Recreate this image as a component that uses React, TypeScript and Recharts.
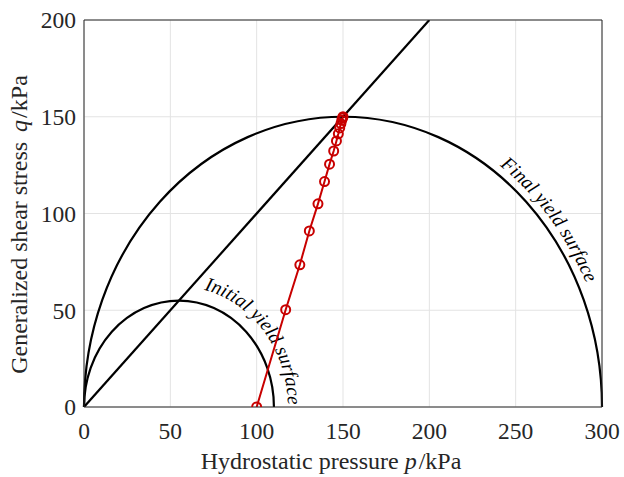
import * as Recharts from "recharts";
import { ComposedChart, Line, XAxis, YAxis, CartesianGrid, Customized } from "recharts";

const W = 624;
const H = 477;

const pTicks = [0, 50, 100, 150, 200, 250, 300];
const qTicks = [0, 50, 100, 150, 200];
const pDomain: [number, number] = [0, 300];
const qDomain: [number, number] = [0, 200];

// critical state line
const cslP = [0, 200];
const cslQ = [0, 200];

// stress path (red)
const pathP = [100, 116.8, 125, 130.5, 135.5, 139.3, 142.2, 144.6, 146.2, 147.3, 148.1, 148.8, 149.3, 149.7, 150];
const pathQ = [0, 50.3, 73.5, 91, 105, 116.5, 125.5, 132.3, 137.5, 141.2, 144.2, 146.5, 148.2, 149.3, 150];

// yield surfaces (semicircles in p-q space)
const surfaceNames = ["Initial yield surface", "Final yield surface"];
const surfaceCenters = [55, 150];
const surfaceRadii = [55, 150];

// label placement along each surface: start/end angle (deg), outward offset (px)
const surfaceLabelStyle = [
  { from: 89, to: 1, offset: 14, size: 19.5 },
  { from: 75, to: 24.5, offset: 8, size: 19.5 },
];

const cslData = cslP.map((p, i) => ({ p, q: cslQ[i] }));
const pathData = pathP.map((p, i) => ({ p, q: pathQ[i] }));

const FONT = '"Liberation Serif", "Times New Roman", Times, serif';
const AX = "#262626";
const RED = "#c80000";

const R: any = Recharts;

function usePlotBox() {
  if (R.usePlotArea) return R.usePlotArea();
  return { x: 84, y: 20, width: 518, height: 387 };
}

function YieldSurfaces() {
  const box = usePlotBox();
  if (!box) return null;
  const px = (p: number) => box.x + ((p - pDomain[0]) / (pDomain[1] - pDomain[0])) * box.width;
  const py = (q: number) => box.y + box.height - ((q - qDomain[0]) / (qDomain[1] - qDomain[0])) * box.height;
  return (
    <g>
      {surfaceCenters.map((c, i) => {
        const cx = px(c);
        const cy = py(0);
        const rx = px(c + surfaceRadii[i]) - cx;
        const ry = cy - py(surfaceRadii[i]);
        const st = surfaceLabelStyle[i];
        const Rx = rx + st.offset;
        const Ry = ry + st.offset;
        const a0 = (st.from * Math.PI) / 180;
        const a1 = (st.to * Math.PI) / 180;
        const lp = `M ${cx + Rx * Math.cos(a0)} ${cy - Ry * Math.sin(a0)} A ${Rx} ${Ry} 0 0 1 ${cx + Rx * Math.cos(a1)} ${cy - Ry * Math.sin(a1)}`;
        return (
          <g key={surfaceNames[i]}>
            <path d={`M ${cx - rx} ${cy} A ${rx} ${ry} 0 0 1 ${cx + rx} ${cy}`} fill="none" stroke="#000" strokeWidth={2.2} />
            <path id={`surf-label-${i}`} d={lp} fill="none" stroke="none" />
            <text fontFamily={FONT} fontStyle="italic" fontSize={st.size} fill="#000">
              <textPath href={`#surf-label-${i}`} startOffset="100%" textAnchor="end">
                {surfaceNames[i]}
              </textPath>
            </text>
          </g>
        );
      })}
    </g>
  );
}

function AxisTitles() {
  const box = usePlotBox();
  if (!box) return null;
  return (
    <g fontFamily={FONT} fontSize={24} fill={AX}>
      <text x={box.x + box.width / 2 - 12} y={469} textAnchor="middle">
        Hydrostatic pressure <tspan fontStyle="italic">p</tspan>
        <tspan dx={2}>/</tspan>kPa
      </text>
      <text transform={`translate(27, ${box.y + box.height / 2 + 11}) rotate(-90)`} textAnchor="middle">
        Generalized shear stress <tspan fontStyle="italic" dx={4}>q</tspan>
        <tspan dx={2}>/</tspan>kPa
      </text>
    </g>
  );
}

const tickStyle = { fill: AX, fontSize: 23.5, fontFamily: FONT };

export default function App() {
  return (
    <div style={{ position: "absolute", left: 0, top: 0, width: W, height: H, background: "#fff" }}>
      <ComposedChart width={W} height={H} margin={{ top: 20, right: 22, bottom: 69, left: 83 }}>
        <CartesianGrid stroke="#e3e3e3" strokeWidth={1} />
        <XAxis
          dataKey="p"
          type="number"
          domain={pDomain}
          ticks={pTicks}
          allowDataOverflow
          height={1}
          tickSize={0}
          tickMargin={15}
          tickLine={false}
          axisLine={{ stroke: AX, strokeWidth: 1 }}
          tick={tickStyle}
        />
        <XAxis xAxisId="bIn" type="number" domain={pDomain} ticks={pTicks} height={1} mirror tick={false} tickSize={5} axisLine={false} tickLine={{ stroke: AX }} />
        <XAxis xAxisId="top" orientation="top" type="number" domain={pDomain} ticks={pTicks} height={1} mirror tick={false} tickSize={5} axisLine={{ stroke: AX }} tickLine={{ stroke: AX }} />
        <YAxis
          type="number"
          domain={qDomain}
          ticks={qTicks}
          allowDataOverflow
          width={1}
          tickSize={0}
          tickMargin={8}
          tickLine={false}
          axisLine={{ stroke: AX, strokeWidth: 1 }}
          tick={tickStyle}
        />
        <YAxis yAxisId="lIn" type="number" domain={qDomain} ticks={qTicks} width={1} mirror tick={false} tickSize={5} axisLine={false} tickLine={{ stroke: AX }} />
        <YAxis yAxisId="right" orientation="right" type="number" domain={qDomain} ticks={qTicks} width={1} mirror tick={false} tickSize={5} axisLine={{ stroke: AX }} tickLine={{ stroke: AX }} />
        <Customized component={<YieldSurfaces />} />
        <Line
          data={cslData}
          dataKey="q"
          type="linear"
          stroke="#000"
          strokeWidth={2.2}
          dot={false}
          activeDot={false}
          isAnimationActive={false}
        />
        <Line
          data={pathData}
          dataKey="q"
          type="linear"
          stroke={RED}
          strokeWidth={2}
          dot={{ r: 4.5, fill: "none", stroke: RED, strokeWidth: 2 }}
          activeDot={false}
          isAnimationActive={false}
        />
        <Customized component={<AxisTitles />} />
      </ComposedChart>
    </div>
  );
}
